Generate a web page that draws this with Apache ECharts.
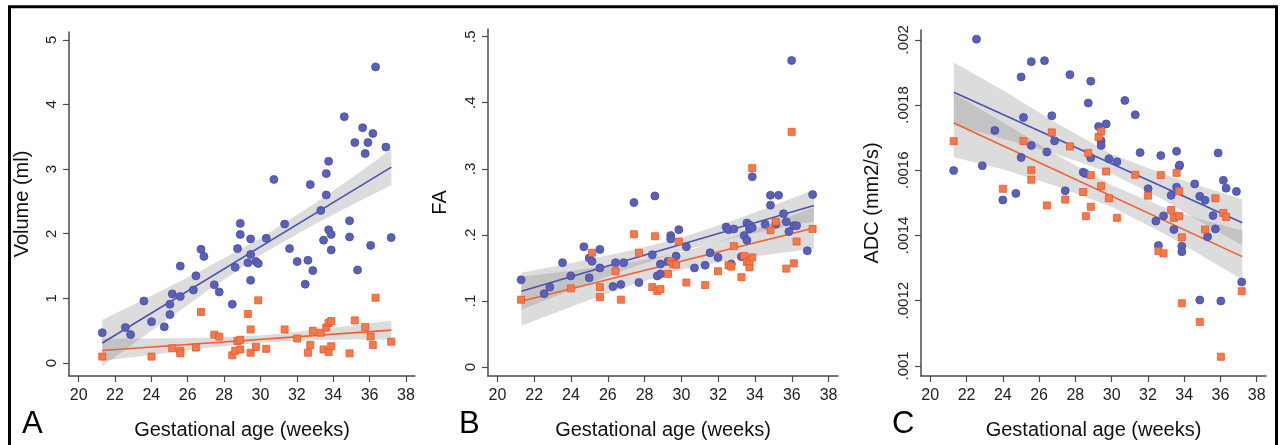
<!DOCTYPE html>
<html>
<head>
<meta charset="utf-8">
<script src="https://cdn.jsdelivr.net/npm/echarts@6/dist/echarts.min.js"></script>
<style>
html,body{margin:0;padding:0;background:#fff;}
#c{width:1280px;height:445px;}
</style>
</head>
<body>
<div id="c"></div>
<script>
// ---------- tick values / labels ----------
const xTicks = [20,22,24,26,28,30,32,34,36,38];
const yTicksA = [0,1,2,3,4,5];
const yLabelsA = ['0','1','2','3','4','5'];
const yTicksB = [0,0.1,0.2,0.3,0.4,0.5];
const yLabelsB = ['0','.1','.2','.3','.4','.5'];
const yTicksC = [0.001,0.0012,0.0014,0.0016,0.0018,0.002];
const yLabelsC = ['.001','.0012','.0014','.0016','.0018','.002'];

// ---------- Panel A: Volume (ml) ----------
const ageA_blue = [21.30,22.57,22.86,23.59,24.01,24.71,25.02,25.02,25.15,25.59,25.59,26.31,26.45,26.73,26.89,27.46,27.73,28.45,28.61,28.74,28.89,28.89,29.31,29.46,29.46,29.46,29.75,29.88,30.32,30.74,31.33,31.60,32.02,32.46,32.61,32.74,32.88,33.32,33.47,33.62,33.62,33.75,33.75,33.89,33.89,34.61,34.90,34.90,35.19,35.34,35.62,35.76,35.91,36.06,36.18,36.33,36.90,37.19];
const volA_blue = [0.47,0.55,0.44,0.96,0.64,0.56,0.75,0.91,1.07,1.50,1.03,1.13,1.35,1.76,1.65,1.21,1.10,0.91,1.48,1.77,2.16,1.99,1.55,1.92,1.68,1.28,1.57,1.54,1.93,2.84,2.15,1.77,1.57,1.22,1.59,2.76,1.43,2.36,1.90,2.60,2.93,3.12,2.06,1.99,1.75,3.81,2.20,1.95,3.41,1.44,3.64,3.24,3.41,1.82,3.55,4.58,3.34,1.94];
const ageA_orange = [21.30,24.01,25.15,25.59,25.59,26.45,26.73,27.46,27.73,28.45,28.61,28.74,28.89,28.89,29.31,29.46,29.46,29.75,29.88,30.32,31.33,32.02,32.61,32.74,32.88,33.32,33.47,33.62,33.75,33.75,33.89,33.89,34.90,35.19,35.76,36.06,36.18,36.33,37.19];
const volA_orange = [0.10,0.10,0.23,0.19,0.15,0.24,0.79,0.44,0.41,0.12,0.19,0.34,0.36,0.21,0.76,0.52,0.16,0.25,0.97,0.22,0.52,0.38,0.16,0.28,0.50,0.47,0.21,0.55,0.62,0.17,0.65,0.26,0.15,0.66,0.56,0.41,0.28,1.01,0.33];
const fitX = [21.3, 37.2];
const fitA_blue = [0.31, 3.03];
const fitA_orange = [0.195, 0.51];
const bandX = [21.3, 24, 27, 30, 33, 35, 37.2];
const bandA_blue_hi = [0.67, 1.04, 1.47, 1.93, 2.47, 2.86, 3.31];
const bandA_blue_lo = [-0.05, 0.50, 1.10, 1.67, 2.15, 2.44, 2.75];
const bandA_orange_hi = [0.38, 0.38, 0.39, 0.425, 0.51, 0.58, 0.655];
const bandA_orange_lo = [0.035, 0.126, 0.232, 0.315, 0.352, 0.363, 0.366];

// ---------- Panel B: FA ----------
const ageB_blue = [21.29,22.54,22.85,23.54,23.99,24.70,24.99,24.99,25.14,25.57,25.57,26.28,26.42,26.71,26.86,27.42,27.69,28.42,28.56,28.69,28.86,28.86,29.27,29.42,29.42,29.71,29.86,30.27,30.71,31.29,31.56,31.99,32.43,32.56,32.71,32.85,33.26,33.41,33.56,33.56,33.70,33.70,33.85,33.85,34.55,34.84,34.84,35.13,35.28,35.55,35.70,35.84,35.99,36.11,36.26,36.84,37.13];
const faB_blue = [0.132,0.111,0.121,0.158,0.138,0.182,0.165,0.135,0.160,0.178,0.150,0.122,0.158,0.125,0.158,0.249,0.128,0.170,0.259,0.138,0.156,0.141,0.160,0.199,0.194,0.168,0.208,0.182,0.150,0.154,0.173,0.166,0.212,0.208,0.156,0.209,0.167,0.199,0.218,0.192,0.209,0.215,0.288,0.211,0.216,0.245,0.260,0.216,0.260,0.232,0.220,0.205,0.464,0.214,0.214,0.176,0.261];
const ageB_orange = [21.29,23.99,25.14,25.57,25.57,26.42,26.71,27.42,27.69,28.42,28.56,28.69,28.86,29.27,29.42,29.56,29.71,29.86,30.27,31.29,31.99,32.56,32.71,32.85,33.26,33.41,33.56,33.70,33.70,33.85,33.85,34.84,35.13,35.70,35.99,36.11,36.26,37.13];
const faB_orange = [0.102,0.119,0.173,0.121,0.106,0.145,0.102,0.201,0.173,0.121,0.198,0.115,0.118,0.141,0.160,0.156,0.155,0.190,0.128,0.124,0.145,0.154,0.152,0.183,0.136,0.168,0.159,0.151,0.160,0.301,0.166,0.207,0.220,0.149,0.356,0.157,0.190,0.209];
const fitB_blue = [0.1148, 0.2444];
const fitB_orange = [0.0997, 0.2104];
const bandB_blue_hi = [0.1428, 0.1574, 0.1748, 0.1957, 0.2237, 0.2446, 0.2682];
const bandB_blue_lo = [0.0868, 0.1162, 0.1478, 0.1757, 0.1967, 0.2084, 0.2206];
const bandB_orange_hi = [0.1367, 0.1457, 0.1571, 0.1733, 0.1989, 0.2189, 0.2419];
const bandB_orange_lo = [0.0627, 0.0913, 0.1217, 0.1473, 0.1635, 0.1713, 0.1789];

// ---------- Panel C: ADC (mm2/s) ----------
const ageC_blue = [21.29,22.55,22.87,23.56,24.00,24.72,25.01,25.01,25.14,25.57,25.57,26.30,26.43,26.70,26.85,27.44,27.70,28.43,28.54,28.71,28.85,28.85,29.28,29.42,29.42,29.70,29.85,30.29,30.73,31.30,31.57,32.01,32.44,32.58,32.71,32.86,33.28,33.43,33.58,33.58,33.72,33.75,33.87,33.87,34.58,34.86,34.86,35.15,35.29,35.59,35.72,35.87,36.02,36.16,36.31,36.88,37.17];
const adcC_blue = [0.001599,0.002002,0.001614,0.001722,0.001509,0.001529,0.001886,0.001639,0.001762,0.001933,0.001676,0.001936,0.001656,0.001767,0.001690,0.001537,0.001893,0.001594,0.001590,0.001806,0.001873,0.001638,0.001734,0.001690,0.001676,0.001742,0.001635,0.001626,0.001814,0.001770,0.001654,0.001543,0.001444,0.001369,0.001645,0.001460,0.001523,0.001418,0.001658,0.001548,0.001612,0.001616,0.001367,0.001350,0.001558,0.001520,0.001202,0.001508,0.001396,0.001461,0.001420,0.001653,0.001199,0.001569,0.001545,0.001535,0.001257];
const ageC_orange = [21.29,24.00,25.14,25.57,25.57,26.43,26.70,27.44,27.70,28.43,28.58,28.71,28.85,28.85,29.28,29.42,29.42,29.70,29.85,30.29,31.30,32.01,32.58,32.71,32.86,33.28,33.43,33.58,33.72,33.72,33.87,33.87,34.86,35.15,35.72,36.02,36.16,36.31,37.17];
const adcC_orange = [0.001689,0.001543,0.001689,0.001600,0.001571,0.001492,0.001716,0.001510,0.001673,0.001533,0.001459,0.001653,0.001585,0.001488,0.001702,0.001719,0.001551,0.001596,0.001514,0.001454,0.001586,0.001522,0.001352,0.001585,0.001345,0.001478,0.001454,0.001592,0.001536,0.001459,0.001394,0.001192,0.001135,0.001418,0.001514,0.001028,0.001469,0.001457,0.001229];
const fitC_blue = [0.001839, 0.001439];
const fitC_orange = [0.001745, 0.001335];
const bandC_blue_hi = [0.001930, 0.001845, 0.001743, 0.001650, 0.001585, 0.001550, 0.001510];
const bandC_blue_lo = [0.001739, 0.001697, 0.001649, 0.001590, 0.001505, 0.001439, 0.001370];
const bandC_orange_hi = [0.001835, 0.001747, 0.001646, 0.001554, 0.001484, 0.001448, 0.001415];
const bandC_orange_lo = [0.001640, 0.001603, 0.001550, 0.001488, 0.001402, 0.001337, 0.001265];

// ---------- styling ----------
const FONT = '"Liberation Sans", Arial, Helvetica, sans-serif';
const BLUE = '#5a5fb8', BLUE_EDGE = '#474ca6', BLUE_LINE = '#4b52b3';
const ORANGE = '#f47a4c', ORANGE_EDGE = '#ec5424', ORANGE_LINE = '#f2602c';
const AXIS_COLOR = '#4a4a4a';

const zip = (a, b) => a.map((v, i) => [v, b[i]]);

function xAxisCfg(gi, min, max) {
  return {
    type: 'value', gridIndex: gi, min: min, max: max,
    name: 'Gestational age (weeks)', nameLocation: 'middle', nameGap: 44,
    nameTextStyle: {fontFamily: FONT, fontSize: 20, color: '#111'},
    axisLine: {show: true, onZero: false, lineStyle: {color: AXIS_COLOR, width: 1.5}},
    axisTick: {show: true, length: 6, customValues: xTicks, lineStyle: {color: AXIS_COLOR, width: 1.2}},
    axisLabel: {customValues: xTicks, margin: 12, fontFamily: FONT, fontSize: 16, color: '#222'},
    splitLine: {show: false}
  };
}
function yAxisCfg(gi, min, max, name, ticks, labels, gap) {
  return {
    type: 'value', gridIndex: gi, min: min, max: max,
    name: name, nameLocation: 'middle', nameGap: gap, nameRotate: 90,
    nameTextStyle: {fontFamily: FONT, fontSize: 20, color: '#111'},
    axisLine: {show: true, onZero: false, lineStyle: {color: AXIS_COLOR, width: 1.5}},
    axisTick: {show: true, length: 6, customValues: ticks, lineStyle: {color: AXIS_COLOR, width: 1.2}},
    axisLabel: {
      customValues: ticks, rotate: 90, margin: 10, fontFamily: FONT, fontSize: 15, color: '#222',
      formatter: function (v) {
        for (let i = 0; i < ticks.length; i++) {
          if (Math.abs(ticks[i] - v) < 1e-9) return labels[i];
        }
        return '';
      }
    },
    splitLine: {show: false}
  };
}
function bandSeries(gi, xs, lo, hi) {
  return {
    type: 'custom', xAxisIndex: gi, yAxisIndex: gi, silent: true, z: 1,
    data: [[xs[0], lo[0]]],
    renderItem: function (params, api) {
      const up = xs.map((x, i) => api.coord([x, hi[i]]));
      const dn = xs.map((x, i) => api.coord([x, lo[i]])).reverse();
      return {type: 'polygon', shape: {points: up.concat(dn)}, style: {fill: 'rgba(140,140,140,0.30)'}};
    }
  };
}
function fitSeries(gi, ys, color) {
  return {
    type: 'line', xAxisIndex: gi, yAxisIndex: gi, data: zip(fitX, ys), showSymbol: false,
    lineStyle: {color: color, width: 1.6}, z: 2, silent: true
  };
}
function dotSeries(gi, xs, ys, blue) {
  return {
    type: 'scatter', xAxisIndex: gi, yAxisIndex: gi, data: zip(xs, ys), z: 3,
    symbol: blue ? 'circle' : 'rect', symbolSize: blue ? 8 : 7,
    itemStyle: blue ? {color: BLUE, borderColor: BLUE_EDGE, borderWidth: 0.8, opacity: 1}
                    : {color: ORANGE, borderColor: ORANGE_EDGE, borderWidth: 0.8, opacity: 1}
  };
}

const chart = echarts.init(document.getElementById('c'), null, {renderer: 'canvas'});
chart.setOption({
  animation: false,
  backgroundColor: '#fff',
  grid: [
    {left: 69, top: 32, width: 346, height: 346},
    {left: 488, top: 29, width: 350, height: 349},
    {left: 921, top: 30, width: 345, height: 347}
  ],
  xAxis: [
    xAxisCfg(0, 19.47, 38.5),
    xAxisCfg(1, 19.49, 38.51),
    xAxisCfg(2, 19.49, 38.51)
  ],
  yAxis: [
    yAxisCfg(0, -0.2, 5.12, 'Volume (ml)', yTicksA, yLabelsA, 37),
    yAxisCfg(1, -0.0135, 0.5116, 'FA', yTicksB, yLabelsB, 38),
    yAxisCfg(2, 0.000969, 0.00203, 'ADC (mm2/s)', yTicksC, yLabelsC, 39)
  ],
  graphic: [
    {type: 'rect', shape: {x: 9.5, y: 6.8, width: 1267, height: 450}, style: {fill: 'none', stroke: '#000', lineWidth: 3}, silent: true},
    {type: 'text', x: 22, y: 424, style: {text: 'A', fontFamily: FONT, fontSize: 31, fill: '#000', verticalAlign: 'middle'}},
    {type: 'text', x: 459, y: 424, style: {text: 'B', fontFamily: FONT, fontSize: 31, fill: '#000', verticalAlign: 'middle'}},
    {type: 'text', x: 892, y: 424, style: {text: 'C', fontFamily: FONT, fontSize: 31, fill: '#000', verticalAlign: 'middle'}}
  ],
  series: [
    bandSeries(0, bandX, bandA_blue_lo, bandA_blue_hi),
    bandSeries(0, bandX, bandA_orange_lo, bandA_orange_hi),
    fitSeries(0, fitA_blue, BLUE_LINE),
    fitSeries(0, fitA_orange, ORANGE_LINE),
    dotSeries(0, ageA_blue, volA_blue, true),
    dotSeries(0, ageA_orange, volA_orange, false),

    bandSeries(1, bandX, bandB_blue_lo, bandB_blue_hi),
    bandSeries(1, bandX, bandB_orange_lo, bandB_orange_hi),
    fitSeries(1, fitB_blue, BLUE_LINE),
    fitSeries(1, fitB_orange, ORANGE_LINE),
    dotSeries(1, ageB_blue, faB_blue, true),
    dotSeries(1, ageB_orange, faB_orange, false),

    bandSeries(2, bandX, bandC_blue_lo, bandC_blue_hi),
    bandSeries(2, bandX, bandC_orange_lo, bandC_orange_hi),
    fitSeries(2, fitC_blue, BLUE_LINE),
    fitSeries(2, fitC_orange, ORANGE_LINE),
    dotSeries(2, ageC_blue, adcC_blue, true),
    dotSeries(2, ageC_orange, adcC_orange, false)
  ]
});
</script>
</body>
</html>
